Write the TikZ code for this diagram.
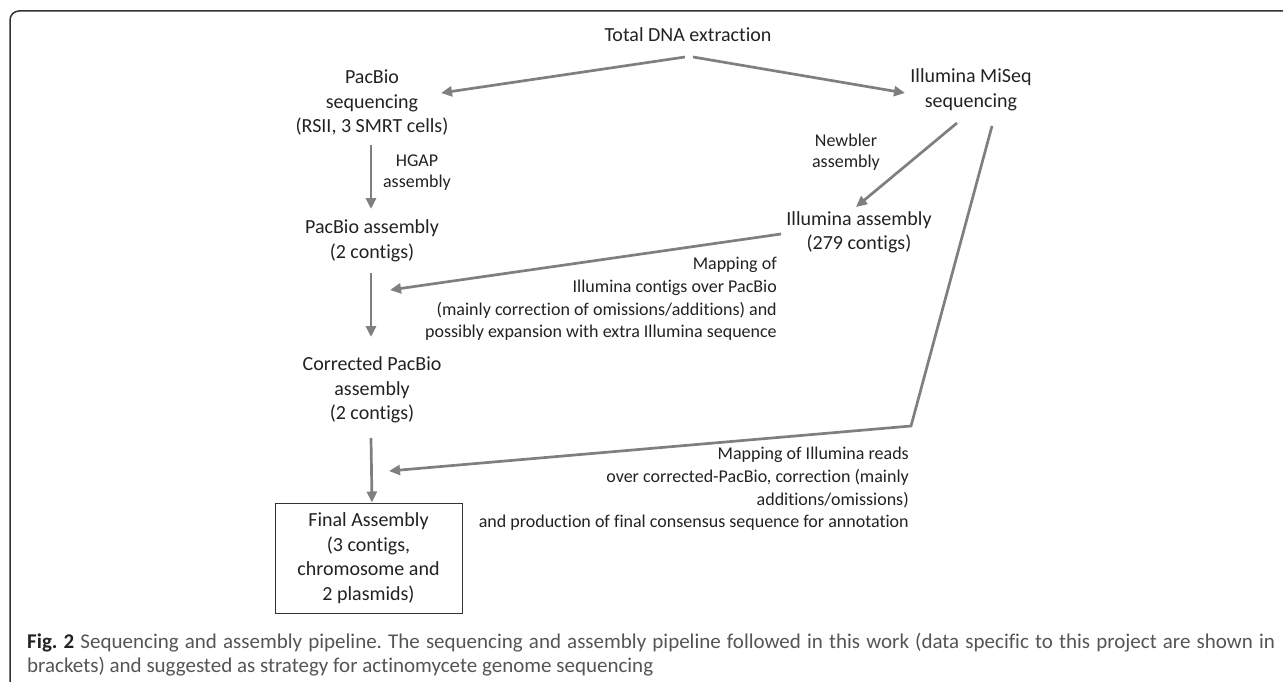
\documentclass[tikz,border=0pt]{standalone}
\usepackage{fontspec}
\setmainfont{Carlito}[Ligatures=NoCommon]
\usepackage{tikz}
\usetikzlibrary{arrows.meta,positioning}
\definecolor{arrgray}{HTML}{7F7F7F}
\definecolor{txtgray}{HTML}{222222}
\definecolor{capgray}{HTML}{555555}
\definecolor{framegray}{HTML}{333333}

\tikzset{
	stage/.style={align=center, inner sep=0pt, text=txtgray, font=\fontsize{20}{24.5}\selectfont},
	howto/.style={align=center, inner sep=0pt, text=txtgray, font=\fontsize{18}{21}\selectfont},
	mapnote/.style={align=right, anchor=east, inner sep=0pt, text=txtgray, font=\fontsize{18}{22.7}\selectfont},
	flow/.style={draw=arrgray, line width=2.7pt, -{Triangle[length=11pt,width=10pt]}},
}

\begin{document}
\begin{tikzpicture}[x=1pt,y=-1pt]
			\useasboundingbox (0,0) rectangle (1283,682);
			%% frame of the figure
			\draw[framegray, line width=1.5pt, rounded corners=9pt] (10,682) -- (10,11) -- (1283,11);
			%% stages
			\node[stage] (dna) at (688,35) {Total DNA extraction};
			\node[stage] (pacseq) at (372,103) {PacBio\\sequencing\\(RSII, 3 SMRT cells)};
			\node[stage] (miseq) at (971,90) {Illumina MiSeq\\sequencing};
			\node[stage] (pacasm) at (372,241) {PacBio assembly\\(2 contigs)};
			\node[stage] (illasm) at (859,232.5) {Illumina assembly\\(279 contigs)};
			\node[stage] (corr) at (372,390) {Corrected PacBio\\assembly\\(2 contigs)};
			\node[stage, draw=framegray, line width=1pt, minimum width=187pt, minimum height=110pt] (final) at (368.5,558)
				{Final Assembly\\(3 contigs,\\chromosome and\\2 plasmids)};
			% labels of the steps
			\node[howto] (hgap) at (417,172.5) {HGAP\\assembly};
			\node[howto] (newbler) at (846,152.5) {Newbler\\assembly};
			\node[mapnote] (mapone) at (777,299) {Mapping of\\Illumina contigs over PacBio\\(mainly correction of omissions/additions) and\\possibly expansion with extra Illumina sequence};
			\node[mapnote] (maptwo) at (909,489) {Mapping of Illumina reads\\over corrected-PacBio, correction (mainly\\additions/omissions)\\and production of final consensus sequence for annotation};
			% free ends on the vertical arrows
			\coordinate (fixone) at (390,290);
			\coordinate (bend) at (911,426);
			\coordinate (fixtwo) at (389,471);
			%% connectors
			\draw[flow] ([shift={(-3,22)}]dna.center) -- ([shift={(69,-10)}]pacseq.center);
			\draw[flow] ([shift={(5,22)}]dna.center) -- ([shift={(-66,3)}]miseq.center);
			\draw[flow] ([shift={(-1,42)}]pacseq.center) -- ([shift={(-1,-32)}]pacasm.center);
			\draw[flow] ([shift={(-14,33)}]miseq.center) -- ([shift={(-3,-25.5)}]illasm.center);
			\draw[flow] ([shift={(-1,32)}]pacasm.center) -- ([shift={(-1,-53)}]corr.center);
			\draw[flow] ([shift={(-78,1.5)}]illasm.center) -- (fixone);
			\draw[flow] ([shift={(21,36)}]miseq.center) -- (bend) -- (fixtwo);
			\draw[flow] ([shift={(-1,48)}]corr.center) -- (final.north -| corr);
			%% caption
			\node[anchor=north west, inner sep=0pt, text width=1248pt, align=justify, text=capgray,
				font=\fontsize{21}{23.5}\selectfont\frenchspacing] (caption) at (27,633)
				{{\bfseries\color{txtgray}Fig. 2} Sequencing and assembly pipeline. The sequencing and assembly pipeline followed in this work (data specific to this project are shown in\linebreak brackets) and suggested as strategy for actinomycete genome sequencing};
\end{tikzpicture}
\end{document}
